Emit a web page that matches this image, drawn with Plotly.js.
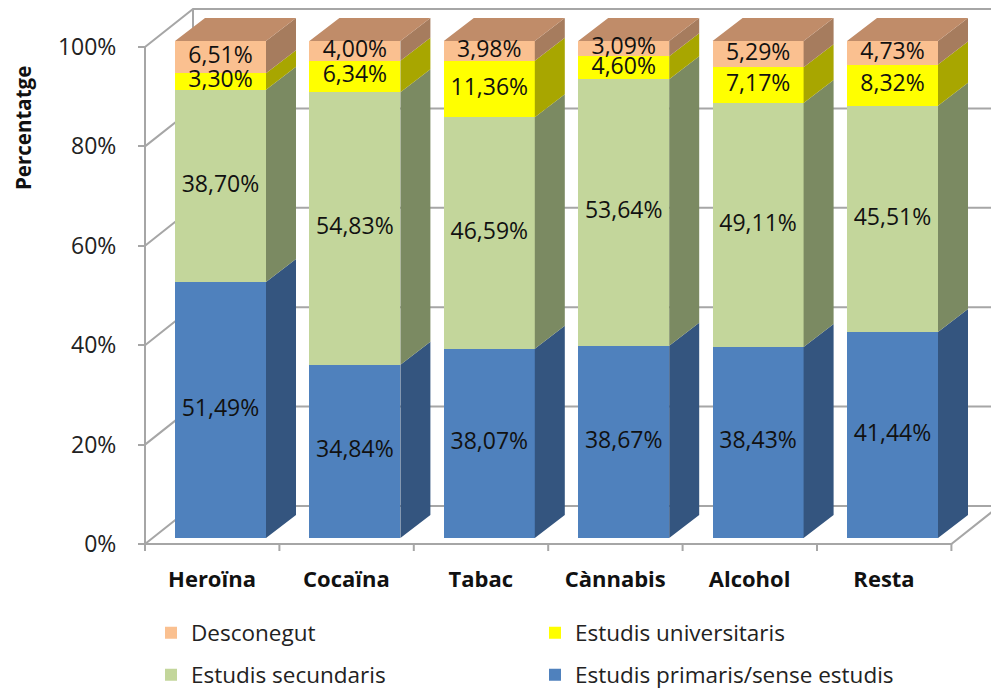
<!DOCTYPE html>
<html>
<head>
<meta charset="utf-8">
<script src="https://cdn.plot.ly/plotly-3.0.1.min.js"></script>
<style>html,body{margin:0;padding:0;background:#fff;}#chart{width:991px;height:689px;}</style>
</head>
<body>
<div id="chart"></div>
<script>
// ---- data ----
const categories = ['Heroïna', 'Cocaïna', 'Tabac', 'Cànnabis', 'Alcohol', 'Resta'];
const primaris = [51.49, 34.84, 38.07, 38.67, 38.43, 41.44];
const secundaris = [38.70, 54.83, 46.59, 53.64, 49.11, 45.51];
const universitaris = [3.30, 6.34, 11.36, 4.60, 7.17, 8.32];
const desconegut = [6.51, 4.00, 3.98, 3.09, 5.29, 4.73];
const seriesNames = ['Estudis primaris/sense estudis', 'Estudis secundaris', 'Estudis universitaris', 'Desconegut'];
const yTicks = [0, 20, 40, 60, 80, 100];

// ---- styling ----
const frontColors = ['#4f81bd', '#c3d69b', '#ffff00', '#fac090'];
const sideColors = ['#34557f', '#7b8a62', '#a8a600', '#a67c5e'];
const topColor = '#c08c69';
const FONT = 'Open Sans, Liberation Sans, sans-serif';

// geometry (axis units)
const W = 991, H = 689;
const pxX = 134.4, pxY = 4.97;
const x0 = -220.5 / pxX, x1 = x0 + W / pxX;
const y1 = 538 / pxY, y0 = y1 - H / pxY;
const wallShift = 6 / pxY;          // wall front 0% sits below bar base
const wallLeft = x0 + 145 / pxX;    // front-left axis line
const wallDX = 48 / pxX, wallDY = 38 / pxY;
const barW = 91 / pxX;
const barDX = 30 / pxX, barDY = 23 / pxY;
const floorRight = wallLeft + categories.length;

const series = [primaris, secundaris, universitaris, desconegut];
const fmt = v => v.toFixed(2).replace('.', ',') + '%';
const xs = categories.map((c, i) => i);

// wall / floor lines as shapes below traces
const gridColor = '#a6a6a6';
const shapes = [];
yTicks.forEach(v => {
  const yf = v - wallShift;
  shapes.push({type: 'path', xref: 'x', yref: 'y', layer: 'below',
    path: `M${wallLeft},${yf} L${wallLeft + wallDX},${yf + wallDY} L${x1 + 1},${yf + wallDY}`,
    line: {color: gridColor, width: 2}});
});
shapes.push({type: 'line', xref: 'x', yref: 'y', layer: 'below',
  x0: wallLeft, x1: wallLeft, y0: -wallShift, y1: 100 - wallShift, line: {color: gridColor, width: 2}});
shapes.push({type: 'line', xref: 'x', yref: 'y', layer: 'below',
  x0: wallLeft + wallDX, x1: wallLeft + wallDX, y0: -wallShift + wallDY, y1: 100 - wallShift + wallDY, line: {color: gridColor, width: 2}});
shapes.push({type: 'path', xref: 'x', yref: 'y', layer: 'below',
  path: `M${wallLeft},${-wallShift} L${floorRight},${-wallShift} L${floorRight + wallDX},${-wallShift + wallDY}`,
  line: {color: gridColor, width: 2}});
for (let k = 0; k <= categories.length; k++) {
  shapes.push({type: 'line', xref: 'x', yref: 'y', layer: 'below',
    x0: wallLeft + k, x1: wallLeft + k, y0: -wallShift, y1: -wallShift - 7 / pxY, line: {color: gridColor, width: 2}});
}

const traces = [];
// invisible trace so the percentage axis (y2) is drawn
traces.push({type: 'scatter', mode: 'markers', x: yTicks.map(() => wallLeft), y: yTicks, yaxis: 'y2',
  marker: {opacity: 0, size: 1}, showlegend: false, hoverinfo: 'skip'});
// front faces
series.forEach((s, k) => {
  traces.push({type: 'bar', x: xs, y: s, width: barW, name: seriesNames[k],
    marker: {color: frontColors[k], line: {width: 0}},
    legend: (k >= 2) ? 'legend' : 'legend2', hoverinfo: 'skip'});
});
// cumulative bases
const cum = categories.map(() => 0);
const sideTraces = [];
const textX = [], textY = [], textT = [];
series.forEach((s, k) => {
  const px = [], py = [];
  s.forEach((v, i) => {
    const b0 = cum[i], b1 = cum[i] + v;
    const xr = i + barW / 2;
    px.push(xr, xr + barDX, xr + barDX, xr, xr, null);
    py.push(b0, b0 + barDY, b1 + barDY, b1, b0, null);
    textX.push(i); textY.push((b0 + b1) / 2); textT.push(fmt(v));
    cum[i] = b1;
  });
  sideTraces.push({type: 'scatter', mode: 'lines', x: px, y: py, fill: 'toself',
    fillcolor: sideColors[k], line: {width: 0, color: sideColors[k]}, showlegend: false, hoverinfo: 'skip'});
});
const tx = [], ty = [];
cum.forEach((top, i) => {
  const xl = i - barW / 2, xr = i + barW / 2;
  tx.push(xl, xl + barDX, xr + barDX, xr, xl, null);
  ty.push(top, top + barDY, top + barDY, top, top, null);
});
traces.push(...sideTraces);
traces.push({type: 'scatter', mode: 'lines', x: tx, y: ty, fill: 'toself', fillcolor: topColor,
  line: {width: 0, color: topColor}, showlegend: false, hoverinfo: 'skip'});
traces.push({type: 'scatter', mode: 'text', x: textX, y: textY, text: textT,
  textfont: {family: FONT, size: 23, color: '#111'}, showlegend: false, hoverinfo: 'skip', cliponaxis: false});

const layout = {
  width: W, height: H,
  margin: {l: 0, r: 0, t: 0, b: 0, autoexpand: false},
  paper_bgcolor: '#fff', plot_bgcolor: 'rgba(0,0,0,0)',
  barmode: 'stack', bargap: 0,
  showlegend: true,
  font: {family: FONT, color: '#222'},
  xaxis: {range: [x0, x1], anchor: 'free', position: 1 - 544 / H,
    tickmode: 'array', tickvals: categories.map((c, i) => i - 8.5 / pxX), ticktext: categories,
    ticks: '', showline: false, showgrid: false, zeroline: false, ticklabelstandoff: 20,
    tickfont: {family: FONT, size: 22, color: '#111', weight: 'bold'}},
  yaxis: {range: [y0, y1], visible: false, showgrid: false, zeroline: false},
  yaxis2: {range: [y0 + wallShift, y1 + wallShift], overlaying: 'y', anchor: 'free', position: 145 / W,
    side: 'left', tickmode: 'array', tickvals: yTicks, ticktext: yTicks.map(v => v + '%'),
    ticks: 'outside', ticklen: 7, tickwidth: 2, tickcolor: gridColor, ticklabelstandoff: 17,
    showline: false, showgrid: false, zeroline: false,
    tickfont: {family: FONT, size: 23, color: '#222'}},
  shapes: shapes,
  legend: {orientation: 'h', x: 151 / W, y: 1 - 633 / H, xanchor: 'left', yanchor: 'middle',
    traceorder: 'reversed', entrywidth: 339, entrywidthmode: 'pixels',
    font: {family: FONT, size: 22.5, color: '#222'}, bgcolor: 'rgba(0,0,0,0)'},
  legend2: {orientation: 'h', x: 151 / W, y: 1 - 675 / H, xanchor: 'left', yanchor: 'middle',
    traceorder: 'reversed', entrywidth: 339, entrywidthmode: 'pixels',
    font: {family: FONT, size: 22.5, color: '#222'}, bgcolor: 'rgba(0,0,0,0)'},
  annotations: [{text: '<b>Percentatge</b>', xref: 'paper', yref: 'paper', x: 23 / W, y: 1 - 128 / H,
    xanchor: 'center', yanchor: 'middle',
    textangle: -90, showarrow: false, font: {family: FONT, size: 20.5, color: '#111'}}]
};

Plotly.newPlot('chart', traces, layout, {displayModeBar: false, staticPlot: true});
</script>
</body>
</html>
